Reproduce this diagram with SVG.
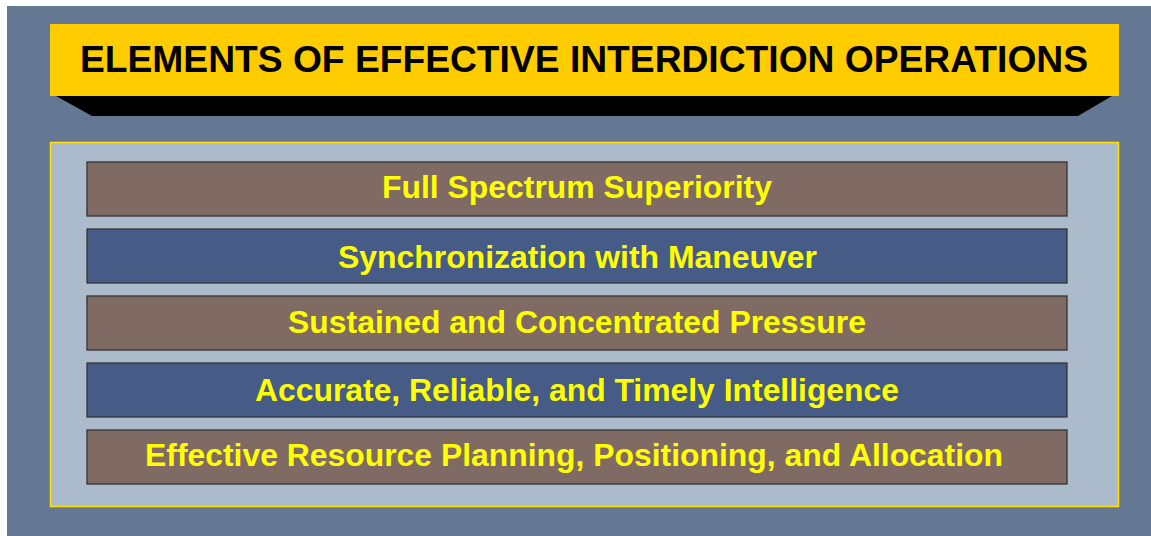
<svg xmlns="http://www.w3.org/2000/svg" width="1151" height="536" viewBox="0 0 1151 536">
<style>
.bar{stroke:#333333;stroke-width:1.3}
.brown{fill:#7F6B63}
.blue{fill:#465C87}
.bt{font-family:"Liberation Sans",Arial,sans-serif;font-weight:bold;font-size:30.5px;fill:#FFFF00;text-anchor:middle}
.tt{font-family:"Liberation Sans",Arial,sans-serif;font-weight:bold;font-size:37px;fill:#000000;text-anchor:middle}
</style>
<rect x="0" y="0" width="1151" height="536" fill="#FFFFFF"/>
<rect x="7" y="6" width="1144" height="530" fill="#647894"/>
<g id="title">
<polygon points="56,96 1112,96 1078,116 92,116" fill="#000000"/>
<rect x="50" y="24" width="1069" height="72" fill="#FFCC00"/>
<text class="tt" x="584" y="72" textLength="1008" lengthAdjust="spacingAndGlyphs">ELEMENTS OF EFFECTIVE INTERDICTION OPERATIONS</text>
</g>
<g id="panel">
<rect x="50.5" y="142.5" width="1068" height="364" fill="#ABBBCC" stroke="#FFE000" stroke-width="1.5"/>
</g>
<g id="n1"><rect class="bar brown" x="87" y="162" width="980" height="54"/><text class="bt" x="577" y="198" textLength="390" lengthAdjust="spacingAndGlyphs">Full Spectrum Superiority</text></g>
<g id="n2"><rect class="bar blue" x="87" y="229" width="980" height="54"/><text class="bt" x="577.5" y="268" textLength="479" lengthAdjust="spacingAndGlyphs">Synchronization with Maneuver</text></g>
<g id="n3"><rect class="bar brown" x="87" y="296" width="980" height="54"/><text class="bt" x="577" y="333" textLength="578" lengthAdjust="spacingAndGlyphs">Sustained and Concentrated Pressure</text></g>
<g id="n4"><rect class="bar blue" x="87" y="363" width="980" height="54"/><text class="bt" x="577" y="401" textLength="644" lengthAdjust="spacingAndGlyphs">Accurate, Reliable, and Timely Intelligence</text></g>
<g id="n5"><rect class="bar brown" x="87" y="430" width="980" height="54"/><text class="bt" x="574" y="466" textLength="858" lengthAdjust="spacingAndGlyphs">Effective Resource Planning, Positioning, and Allocation</text></g>
<g id="connectors"></g>
</svg>
